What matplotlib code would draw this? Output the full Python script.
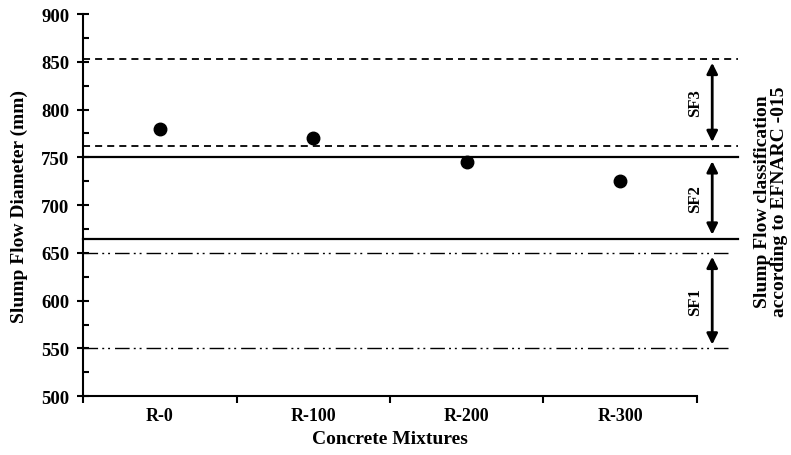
import numpy as np
import matplotlib.pyplot as plt
from matplotlib.ticker import MultipleLocator, FixedLocator

plt.rcParams['font.family'] = ['Liberation Serif', 'DejaVu Serif']
plt.rcParams['font.weight'] = 'bold'

mixtures = ["R-0", "R-100", "R-200", "R-300"]
slump = [780, 770, 745, 725]

# EFNARC class limits (mm)
sf3 = (762, 853)
sf2 = (665, 750)
sf1 = (550, 650)

fig = plt.figure(figsize=(7.91, 4.56), dpi=100)
ax = fig.add_axes([0.105, 0.129, 0.776, 0.838])

x = np.arange(len(mixtures))
ax.plot(x, slump, 'o', color='black', markersize=9, zorder=5)

xend_long = 3.77
xend_short = 3.70
for y in sf3:
    ax.plot([-0.5, xend_long], [y, y], '--', color='black', lw=1.3,
            dashes=(3.9, 2.8), clip_on=False)
for y in sf2:
    ax.plot([-0.5, xend_long], [y, y], '-', color='black', lw=1.6, clip_on=False)
for y in sf1:
    ax.plot([-0.5, xend_short], [y, y], color='black', lw=1.0,
            dashes=(10.5, 3, 1.4, 2.8, 1.4, 3.6), clip_on=False)

xa = 3.6
for (lo, hi), lab in [(sf3, "SF3"), (sf2, "SF2"), (sf1, "SF1")]:
    ax.annotate("", xy=(xa, hi - 4), xytext=(xa, lo + 4),
                arrowprops=dict(arrowstyle='<|-|>', color='black', lw=2,
                                mutation_scale=16, shrinkA=0, shrinkB=0),
                annotation_clip=False)
    ax.text(3.49, (lo + hi) / 2, lab, rotation=90, ha='center', va='center',
            fontsize=12, fontweight='bold')

ax.set_xlim(-0.5, 3.5)
ax.set_ylim(500, 900)
ax.set_xticks(x)
ax.set_xticklabels(mixtures, fontsize=13, fontweight='bold')
ax.xaxis.set_minor_locator(FixedLocator([-0.5, 0.5, 1.5, 2.5, 3.5]))
ax.tick_params(axis='x', which='major', length=0, pad=8)
ax.tick_params(axis='x', which='minor', direction='out', length=5, width=1.5)

ax.yaxis.set_major_locator(MultipleLocator(50))
ax.yaxis.set_minor_locator(MultipleLocator(25))
ax.tick_params(axis='y', which='major', direction='inout', length=8, width=1.5,
               labelsize=13.5, pad=6)
ax.tick_params(axis='y', which='minor', direction='in', length=4, width=1.5)
for t in ax.get_yticklabels():
    t.set_fontweight('bold')

for s in ['top', 'right']:
    ax.spines[s].set_visible(False)
for s in ['left', 'bottom']:
    ax.spines[s].set_linewidth(1.5)

ax.set_xlabel("Concrete Mixtures", fontsize=14, fontweight='bold', labelpad=4)
ax.set_ylabel("Slump Flow Diameter (mm)", fontsize=14, fontweight='bold', labelpad=9)

fig.text(0.975, 0.557, "Slump Flow classification\naccording to EFNARC -015",
         rotation=90, ha='center', va='center', fontsize=14, fontweight='bold',
         linespacing=1.0)

fig.savefig("out.png", dpi=100)
